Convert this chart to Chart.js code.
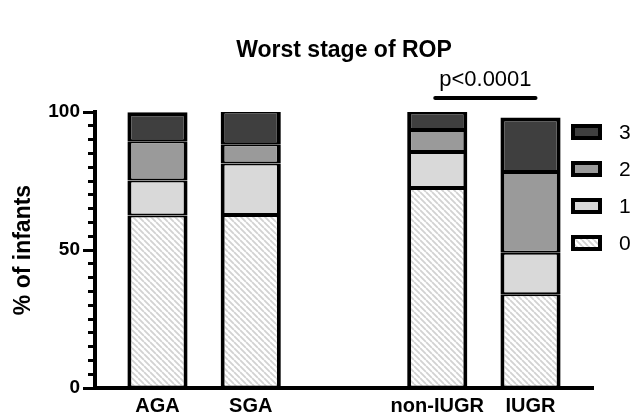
<!DOCTYPE html>
<html>
<head>
<meta charset="utf-8">
<title>Worst stage of ROP</title>
<script src="https://cdn.jsdelivr.net/npm/chart.js@4.4.0/dist/chart.umd.min.js"></script>
<style>
  html, body { margin: 0; padding: 0; background: #fff; }
</style>
</head>
<body>
<canvas id="myChart" width="634" height="414"></canvas>
<script>
// groups on the x axis, and which slot each one sits in (slot 2 is the empty gap)
const categories = ['AGA', 'SGA', 'non-IUGR', 'IUGR'];
const slots = [0, 1, 3, 4];

// % of infants per worst ROP stage
const stage0 = [62.5, 62.7, 72.5, 34.0];
const stage1 = [12.7, 18.6, 13.0, 15.0];
const stage2 = [14.2, 7.0, 8.0, 29.3];
const stage3 = [10.5, 12.6, 7.0, 19.7];
const stageLabels = ['0', '1', '2', '3'];

const yTicks = [0, 50, 100];
const pText = 'p<0.0001';
const pPair = [2, 3]; // non-IUGR vs IUGR

const FONT = '"Liberation Sans", Arial, sans-serif';
Chart.defaults.font.family = FONT;
Chart.defaults.color = '#000';

function hatch() {
    const c = document.createElement('canvas');
    c.width = 6; c.height = 6;
    const g = c.getContext('2d');
    g.fillStyle = '#fff';
    g.fillRect(0, 0, 6, 6);
    g.strokeStyle = '#d2d2d2';
    g.lineWidth = 1.8;
    g.beginPath();
    for (const o of [-6, 0, 6]) { g.moveTo(o, 0); g.lineTo(o + 6, 6); }
    g.stroke();
    return g.createPattern(c, 'repeat');
}

const fills = [hatch(), '#d9d9d9', '#9a9a9a', '#3f3f3f'];
const stages = [stage0, stage1, stage2, stage3];

const datasets = stages.map((vals, i) => ({
    label: stageLabels[i],
    data: vals.map((v, j) => ({ x: slots[j], y: v })),
    backgroundColor: fills[i],
    borderColor: '#000',
    borderWidth: { top: i === 3 ? 4 : 2, bottom: 2, left: 4, right: 4 },
    borderSkipped: false,
    stack: 'rop',
    barPercentage: 0.645,
    categoryPercentage: 1
}));

// significance bar over non-IUGR / IUGR
const pValuePlugin = {
    id: 'pValue',
    afterDraw(chart) {
        const { ctx, chartArea, scales: { x } } = chart;
        const x1 = x.getPixelForValue(slots[pPair[0]]) - 2;
        const x2 = x.getPixelForValue(slots[pPair[1]]) + 5;
        const y = chartArea.top - 14;
        ctx.save();
        ctx.strokeStyle = '#000';
        ctx.lineWidth = 4;
        ctx.lineCap = 'round';
        ctx.beginPath();
        ctx.moveTo(x1, y);
        ctx.lineTo(x2, y);
        ctx.stroke();
        ctx.font = '22px ' + FONT;
        ctx.textAlign = 'center';
        ctx.fillStyle = '#000';
        ctx.fillText(pText, (x1 + x2) / 2, y - 12);
        ctx.restore();
    }
};

// legend boxes inside the plot, top right, stage 3 first
const sideLegend = {
    id: 'sideLegend',
    afterDraw(chart) {
        const { ctx, chartArea } = chart;
        const left = chartArea.right - 22;
        let cy = chartArea.top + 20;
        ctx.save();
        ctx.font = '21px ' + FONT;
        ctx.textBaseline = 'middle';
        chart.data.datasets.slice().reverse().forEach(ds => {
            ctx.fillStyle = '#000';
            ctx.fillRect(left, cy - 8, 31, 16);
            ctx.fillStyle = ds.backgroundColor;
            ctx.fillRect(left + 4, cy - 4, 23, 8);
            ctx.fillStyle = '#000';
            ctx.fillText(ds.label, left + 48, cy + 1);
            cy += 37;
        });
        ctx.restore();
    }
};

new Chart(document.getElementById('myChart').getContext('2d'), {
    type: 'bar',
    data: { datasets: datasets },
    plugins: [pValuePlugin, sideLegend],
    options: {
        responsive: false,
        animation: false,
        events: [],
        layout: { padding: { left: 0, right: 41, top: 0, bottom: 0 } },
        plugins: {
            legend: { display: false },
            tooltip: { enabled: false },
            title: {
                display: true,
                fullSize: false,
                text: 'Worst stage of ROP',
                color: '#000',
                font: { size: 23, weight: 'bold' },
                padding: { top: 37, bottom: 47.4 }
            }
        },
        scales: {
            x: {
                type: 'linear',
                offset: false,
                bounds: 'data',
                min: -0.67,
                max: 4.67,
                afterBuildTicks: axis => { axis.ticks = slots.map(v => ({ value: v })); },
                afterFit: axis => { axis.height = 26; },
                ticks: {
                    callback: v => categories[slots.indexOf(v)] || '',
                    autoSkip: false,
                    maxRotation: 0,
                    padding: 6,
                    color: '#000',
                    font: { size: 20, weight: 'bold' }
                },
                grid: { display: false, drawTicks: false, offset: false },
                border: { color: '#000', width: 4 }
            },
            y: {
                stacked: true,
                min: 0,
                max: 100,
                afterFit: axis => { axis.width = 95; },
                ticks: {
                    stepSize: 5,
                    autoSkip: false,
                    padding: 3,
                    color: '#000',
                    font: { size: 19, weight: 'bold' },
                    callback: v => yTicks.includes(v) ? v : ''
                },
                grid: {
                    drawOnChartArea: false,
                    color: '#000',
                    tickLength: 12,
                    tickWidth: 3,
                    tickBorderDash: c => (c.tick && !yTicks.includes(c.tick.value)) ? [0, 5, 20] : []
                },
                border: { color: '#000', width: 4 },
                title: {
                    display: true,
                    text: '% of infants',
                    color: '#000',
                    font: { size: 23, weight: 'bold' },
                    padding: { top: 10, bottom: 0 }
                }
            }
        }
    }
});
</script>
</body>
</html>
